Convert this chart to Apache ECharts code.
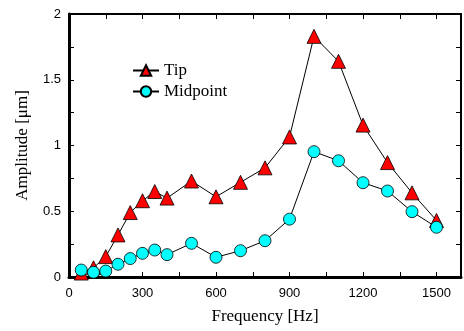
<!DOCTYPE html>
<html>
<head>
<meta charset="utf-8">
<script src="https://cdn.jsdelivr.net/npm/echarts@6/dist/echarts.min.js"></script>
<style>
  html, body { margin: 0; padding: 0; background: #fff; }
  #chart { width: 464px; height: 331px; }
</style>
</head>
<body>
<div id="chart"></div>
<script>
// frequencies (Hz)
const freqs = [50, 100, 150, 200, 250, 300, 350, 400, 500, 600, 700, 800, 900, 1000, 1100, 1200, 1300, 1400, 1500];
// amplitudes (um)
const tipAmp = [0.03, 0.07, 0.155, 0.32, 0.49, 0.58, 0.65, 0.6, 0.73, 0.61, 0.72, 0.83, 1.065, 1.83, 1.64, 1.155, 0.87, 0.64, 0.43];
const midAmp = [0.053, 0.036, 0.045, 0.097, 0.14, 0.18, 0.205, 0.17, 0.256, 0.15, 0.2, 0.276, 0.44, 0.953, 0.884, 0.717, 0.654, 0.497, 0.378];
const xTicks = [0, 300, 600, 900, 1200, 1500];
const yTicks = [0, 0.5, 1, 1.5, 2];

const pairs = (ys) => freqs.map((f, i) => [f, ys[i]]);

const chart = echarts.init(document.getElementById('chart'));
const sans = 'Liberation Sans';
const serif = 'Liberation Serif';

const baseX = {
  type: 'value', min: 0, max: 1600, interval: 150,
  splitLine: { show: false },
  axisTick: { inside: true, length: 5, lineStyle: { color: '#000', width: 1 } }
};
const baseY = {
  type: 'value', min: 0, max: 2, interval: 0.25,
  splitLine: { show: false },
  axisTick: { inside: true, length: 5, lineStyle: { color: '#000', width: 1 } }
};

chart.setOption({
  animation: false,
  grid: { left: 69, top: 14, right: 2, bottom: 54 },
  legend: {
    left: 127, top: 57, orient: 'vertical', itemGap: 4,
    itemWidth: 26, itemHeight: 13,
    textStyle: { fontFamily: serif, fontSize: 17, color: '#000' },
    data: ['Tip', 'Midpoint']
  },
  xAxis: [
    Object.assign({}, baseX, {
      position: 'bottom',
      name: 'Frequency [Hz]', nameLocation: 'middle', nameGap: 31,
      nameTextStyle: { fontFamily: serif, fontSize: 17, color: '#000' },
      axisLine: { onZero: false, lineStyle: { color: '#000', width: 3 } },
      axisLabel: {
        fontFamily: sans, fontSize: 13, color: '#000', margin: 10,
        formatter: (v) => xTicks.includes(v) ? String(v) : ''
      }
    }),
    Object.assign({}, baseX, {
      position: 'top',
      axisLine: { onZero: false, lineStyle: { color: '#000', width: 2 } },
      axisLabel: { show: false }
    })
  ],
  yAxis: [
    Object.assign({}, baseY, {
      position: 'left',
      name: 'Amplitude [\u03bcm]', nameLocation: 'middle', nameGap: 38,
      nameTextStyle: { fontFamily: serif, fontSize: 17, color: '#000' },
      axisLine: { onZero: false, lineStyle: { color: '#000', width: 3 } },
      axisLabel: {
        fontFamily: sans, fontSize: 13, color: '#000', margin: 8,
        formatter: (v) => yTicks.includes(v) ? String(v) : ''
      }
    }),
    Object.assign({}, baseY, {
      position: 'right',
      axisLine: { onZero: false, lineStyle: { color: '#000', width: 2 } },
      axisLabel: { show: false }
    })
  ],
  series: [
    {
      name: 'Tip', type: 'line', data: pairs(tipAmp),
      symbol: 'triangle', symbolSize: 14,
      lineStyle: { color: '#000', width: 1 },
      itemStyle: { color: '#ff0000', borderColor: '#000', borderWidth: 0.8 }
    },
    {
      name: 'Midpoint', type: 'line', data: pairs(midAmp),
      symbol: 'circle', symbolSize: 12,
      lineStyle: { color: '#000', width: 1 },
      itemStyle: { color: '#00ffff', borderColor: '#000', borderWidth: 0.8 }
    }
  ]
});
</script>
</body>
</html>
